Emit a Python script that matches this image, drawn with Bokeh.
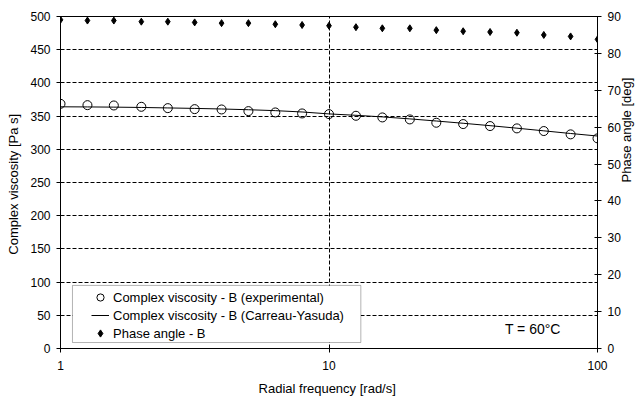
import math
from bokeh.plotting import figure
from bokeh.models import (LinearAxis, Range1d, FixedTicker, SingleIntervalTicker,
                          Legend, LegendItem, BoxAnnotation, Label)
from bokeh.embed import file_html
from bokeh.resources import INLINE

# Radial frequency [rad/s], 10 points per decade
freq = [1.0, 1.26, 1.58, 2.0, 2.51, 3.16, 3.98, 5.01, 6.31, 7.94, 10.0,
        12.6, 15.8, 20.0, 25.1, 31.6, 39.8, 50.1, 63.1, 79.4, 100.0]
# Complex viscosity, measured [Pa s]
visc_exp = [368.5, 366.5, 366, 364, 362, 360.5, 360, 357.5, 355.5, 354, 353,
            350.5, 348, 345, 340, 338, 335, 331.5, 327.5, 322.5, 316.5]
# Complex viscosity, Carreau-Yasuda fit [Pa s]
visc_fit = [364, 363.8, 363.5, 363, 362.3, 361.6, 360.7, 359.6, 358.2, 356.2, 353.3,
            351.2, 348.8, 345.8, 342.6, 339.2, 335.6, 331.8, 327.8, 323.8, 320]
# Phase angle [deg]
phase = [89.1, 88.9, 88.9, 88.6, 88.6, 88.4, 88.2, 88.2, 87.9, 87.7, 87.5,
         87.1, 86.8, 86.8, 86.3, 86.0, 85.8, 85.6, 85.0, 84.6, 83.8]

x_ticks = [1, 10, 100]
FONT = "Liberation Sans"

p = figure(width=644, height=399, x_axis_type="log",
           x_range=Range1d(1, 100), y_range=Range1d(0, 500),
           output_backend="svg", toolbar_location=None,
           min_border_left=60, min_border_right=44,
           min_border_top=16, min_border_bottom=51)
p.background_fill_color = "white"
p.border_fill_color = "white"
p.outline_line_color = "black"
p.outline_line_width = 1

p.extra_y_ranges = {"phase": Range1d(0, 90)}
right_axis = LinearAxis(y_range_name="phase",
                        ticker=SingleIntervalTicker(interval=10, num_minor_ticks=0),
                        axis_label="Phase angle [deg]")
# title on the right reads bottom to top, like the left one
right_axis.axis_label_orientation = math.pi / 2
p.add_layout(right_axis, "right")

ytick = SingleIntervalTicker(interval=50, num_minor_ticks=0)
p.yaxis[0].ticker = ytick
p.ygrid.ticker = ytick
p.xaxis.ticker = FixedTicker(ticks=x_ticks)
p.xgrid.ticker = FixedTicker(ticks=[10])
p.xaxis.major_label_overrides = {t: str(t) for t in x_ticks}

for g in (p.xgrid, p.ygrid):
    g.grid_line_color = "black"
    g.grid_line_dash = "4 2"
    g.grid_line_width = 1

p.xaxis.axis_label = "Radial frequency  [rad/s]"
p.yaxis[0].axis_label = "Complex viscosity  [Pa s]"

for ax in (p.xaxis[0], p.yaxis[0], right_axis):
    ax.axis_line_color = "black"
    ax.major_tick_line_color = "black"
    ax.minor_tick_line_color = None
    ax.major_tick_in = 3
    ax.major_tick_out = 4
    ax.major_label_text_font = FONT
    ax.major_label_text_font_size = "12px"
    ax.major_label_text_color = "black"
    ax.axis_label_text_font = FONT
    ax.axis_label_text_font_size = "13px"
    ax.axis_label_text_font_style = "normal"
    ax.axis_label_text_color = "black"
p.xaxis.major_label_standoff = 8
p.xaxis.axis_label_standoff = 8
p.yaxis[0].major_label_standoff = 6
p.yaxis[0].axis_label_standoff = 6
right_axis.major_label_standoff = 6
right_axis.axis_label_standoff = 3

fit = p.line(freq, visc_fit, line_color="black", line_width=1)
circ = p.scatter(freq, visc_exp, marker="circle", size=9,
                 fill_color=None, line_color="black", line_width=1)
ph = p.scatter(freq, phase, marker="diamond", size=7, color="black",
               y_range_name="phase")

# legend frame, then the legend itself on top
p.add_layout(BoxAnnotation(left=1.108, right=13.14, bottom=9.0, top=95.0,
                           fill_color="white", fill_alpha=1.0,
                           line_color="black", line_width=1))
legend = Legend(items=[
    LegendItem(label="Complex viscosity - B (experimental)", renderers=[circ]),
    LegendItem(label="Complex viscosity - B (Carreau-Yasuda)", renderers=[fit]),
    LegendItem(label="Phase angle - B", renderers=[ph]),
], location=(31, 6), padding=0, spacing=0, margin=0,
    label_height=18, glyph_height=18, glyph_width=18, label_standoff=4,
    border_line_color=None, background_fill_alpha=0,
    label_text_font=FONT, label_text_font_size="13px", label_text_color="black")
p.add_layout(legend)

p.add_layout(Label(x=45.2, y=30, text="T = 60°C", text_font=FONT,
                   text_font_size="14px", text_baseline="middle", text_color="black"))

open("out.html", "w").write(file_html(p, INLINE))
